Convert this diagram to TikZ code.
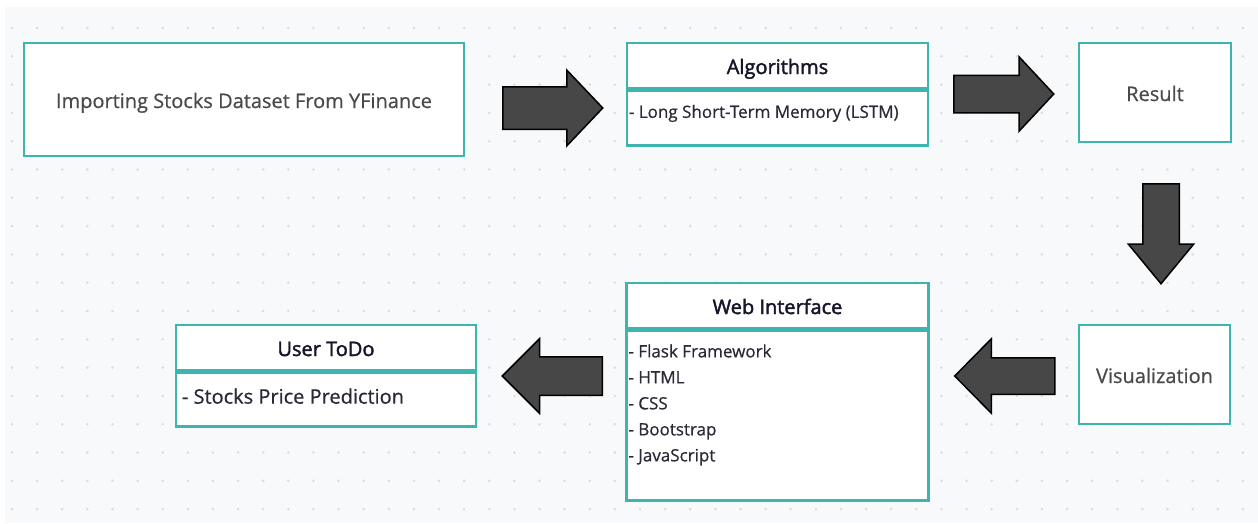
\documentclass[tikz,border=0pt]{standalone}
\usepackage{fontspec}
\setmainfont{Open Sans}
\newfontfamily\boxfont{Open Sans}[FakeBold=0.6]
\newfontfamily\headfont{Open Sans}[FakeBold=2]
\usepackage{xcolor}
\usepackage{tikz}
\usetikzlibrary{shapes.arrows}
\usetikzlibrary{positioning}

\definecolor{teal}{HTML}{3DB5AE}
\definecolor{canvas}{HTML}{F8F9FB}
\definecolor{griddot}{HTML}{DADCE1}
\definecolor{arrowgray}{HTML}{474747}
\definecolor{labelgray}{HTML}{4A4A4C}
\definecolor{headink}{HTML}{16162A}
\definecolor{itemink}{HTML}{2A2A36}

\tikzset{
  box/.style={draw=teal, line width=2.5pt, fill=white, inner sep=0pt},
  mainlabel/.style={text=labelgray, font=\boxfont\fontsize{20}{24}\selectfont,
    text height=17pt, text depth=0pt},
  headbox/.style={box, minimum height=45pt, text=headink,
    font=\headfont\fontsize{20}{24}\selectfont, text height=17pt, text depth=0pt},
  bodybox/.style={box, anchor=north},
  itemtext/.style={anchor=north west, inner sep=0pt, align=left, text=itemink},
  blockarrow/.style={single arrow, draw=black, fill=arrowgray, line width=1.5pt,
    inner xsep=0pt, minimum height=100pt, anchor=tail}
}

\begin{document}
\begin{tikzpicture}[x=1pt, y=-1pt]
  \useasboundingbox (0,0) rectangle (1258,523);
  % Fondo con puntos
  \fill[canvas] (5,7) rectangle (1258,523);
  \foreach \i in {0,...,49}
    \foreach \j in {0,...,17}
      \fill[griddot] (12+25.12*\i, 28+28.3*\j) circle (1.4pt);

  % Cajas de arriba
  \node[box, mainlabel, minimum width=440pt, minimum height=113pt] (import) at (244,99.5)
    {Importing Stocks Dataset From YFinance};
  \node[headbox, minimum width=301pt] (alghead) at (777.5,65.5) {Algorithms};
  \node[bodybox, minimum width=301pt, minimum height=55pt, below=0pt of alghead] (algbody) {};
  \node[itemtext, font=\boxfont\fontsize{17}{26}\selectfont, below right=15.5pt and 3pt of alghead.south west] (algitems)
    {- Long Short-Term Memory (LSTM)};
  \node[box, mainlabel, minimum width=152pt, minimum height=99pt] (result) at (1155,92.5) {Result};

  % Cajas de abajo
  \node[box, mainlabel, minimum width=151pt, minimum height=99pt] (visual) at (1154.5,374.5) {Visualization};
  \node[headbox, minimum width=302pt] (webhead) at (777.5,305.5) {Web Interface};
  \node[bodybox, minimum width=302pt, minimum height=170pt, below=0pt of webhead] (webbody) {};
  \node[itemtext, font=\boxfont\fontsize{17}{26}\selectfont, below right=15pt and 3pt of webhead.south west] (webitems)
    {- Flask Framework\\- HTML\\- CSS\\- Bootstrap\\- JavaScript};
  \node[headbox, minimum width=300pt] (userhead) at (326,347.5) {User ToDo};
  \node[bodybox, minimum width=300pt, minimum height=54pt, below=0pt of userhead] (userbody) {};
  \node[itemtext, font=\boxfont\fontsize{20}{24}\selectfont, below right=17pt and 7pt of userhead.south west] (useritems)
    {- Stocks Price Prediction};

  % Flechas
  \node[blockarrow, inner ysep=20.5pt, single arrow head extend=16.5pt, single arrow tip angle=93] (toalg) at (502,108) {};
  \node[blockarrow, inner ysep=18pt, single arrow head extend=18.5pt, single arrow tip angle=94] (toresult) at (953,94) {};
  \node[blockarrow, inner ysep=17.5pt, single arrow head extend=14.5pt, single arrow tip angle=79, rotate=270] (tovisual) at (1161,183) {};
  \node[blockarrow, inner ysep=17.5pt, single arrow head extend=19pt, single arrow tip angle=91, rotate=180] (toweb) at (1055.5,376) {};
  \node[blockarrow, inner ysep=18.5pt, single arrow head extend=18pt, single arrow tip angle=90, rotate=180] (touser) at (603,376) {};
\end{tikzpicture}
\end{document}
